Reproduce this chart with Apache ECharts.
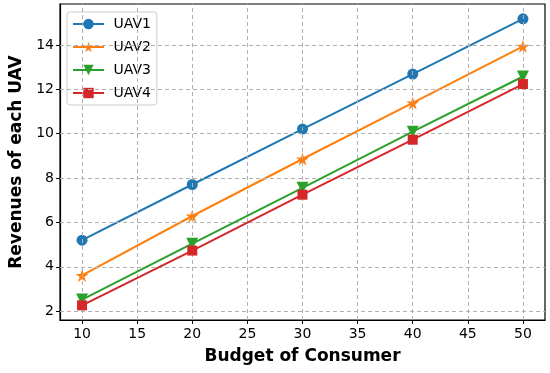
<!DOCTYPE html>
<html><head><meta charset="utf-8">
<script src="https://cdn.jsdelivr.net/npm/echarts@6/dist/echarts.min.js"></script>
<style>html,body{margin:0;padding:0;background:#fff}#c{width:550px;height:373px}</style>
</head><body><div id="c"></div>
<script>
const budgets = [10, 20, 30, 40, 50];
const uav1 = [5.2, 7.71, 10.21, 12.69, 15.18];
const uav2 = [3.61, 6.29, 8.86, 11.39, 13.94];
const uav3 = [2.52, 5.04, 7.56, 10.09, 12.58];
const uav4 = [2.26, 4.73, 7.25, 9.73, 12.24];
const seriesNames = ['UAV1', 'UAV2', 'UAV3', 'UAV4'];
const xTicks = [10, 15, 20, 25, 30, 35, 40, 45, 50];
const yTicks = [2, 4, 6, 8, 10, 12, 14];

const colors = ['#1f77b4', '#ff7f0e', '#2ca02c', '#d62728'];
const star = 'path://M50,0 L61,35 L98,35 L68,57 L79,91 L50,70 L21,91 L32,57 L2,35 L39,35 Z';
const symbols = ['circle', star, 'triangle', 'rect'];
const sizes = [11, 13, 12, 10];
const rot = [0, 0, 180, 0];
const allData = [uav1, uav2, uav3, uav4];
const font = 'DejaVu Sans';

const series = allData.map((d, i) => ({
  name: seriesNames[i],
  type: 'line',
  data: budgets.map((b, j) => [b, d[j]]),
  symbol: symbols[i],
  symbolSize: sizes[i],
  symbolRotate: rot[i],
  showAllSymbol: true,
  lineStyle: { color: colors[i], width: 2 },
  itemStyle: { color: colors[i] },
  z: 3 + i,
  animation: false
}));
series[0].markLine = {
  silent: true, symbol: 'none', label: { show: false },
  lineStyle: { color: '#b0b0b0', type: [4, 3], width: 1 },
  animation: false,
  data: xTicks.map(v => ({ xAxis: v })).concat(yTicks.map(v => ({ yAxis: v })))
};

const chart = echarts.init(document.getElementById('c'), null, { renderer: 'canvas' });
chart.setOption({
  animation: false,
  color: colors,
  grid: { left: 60, right: 5, top: 4, bottom: 53, show: true, borderColor: '#000', borderWidth: 1.2, backgroundColor: 'transparent' },
  legend: {
    left: 67, top: 12, orient: 'vertical',
    itemWidth: 31, itemHeight: 13, itemGap: 9,
    padding: [5, 6, 5, 5],
    borderColor: '#cccccc', borderWidth: 1, borderRadius: 3,
    backgroundColor: 'rgba(255,255,255,0.8)',
    textStyle: { fontFamily: font, fontSize: 14, color: '#000' },
    formatter: name => ' ' + name,
    data: seriesNames
  },
  xAxis: {
    type: 'value', min: 8, max: 52,
    name: 'Budget of Consumer', nameLocation: 'middle', nameGap: 28,
    nameTextStyle: { fontFamily: font, fontSize: 17, fontWeight: 'bold', color: '#000' },
    axisLine: { show: true, onZero: false, lineStyle: { color: '#000', width: 1.2 } },
    axisTick: { show: true, inside: false, length: 4, customValues: xTicks, lineStyle: { color: '#000' } },
    axisLabel: { customValues: xTicks, margin: 7, fontFamily: font, fontSize: 14, color: '#000' },
    splitLine: { show: false }
  },
  yAxis: {
    type: 'value', min: 1.6, max: 15.85,
    name: 'Revenues of each UAV', nameLocation: 'middle', nameGap: 35,
    nameTextStyle: { fontFamily: font, fontSize: 17, fontWeight: 'bold', color: '#000' },
    axisLine: { show: true, onZero: false, lineStyle: { color: '#000', width: 1.2 } },
    axisTick: { show: true, inside: false, length: 4, customValues: yTicks, lineStyle: { color: '#000' } },
    axisLabel: { customValues: yTicks, margin: 6, fontFamily: font, fontSize: 14, color: '#000' },
    splitLine: { show: false }
  },
  series: series
});
</script></body></html>
